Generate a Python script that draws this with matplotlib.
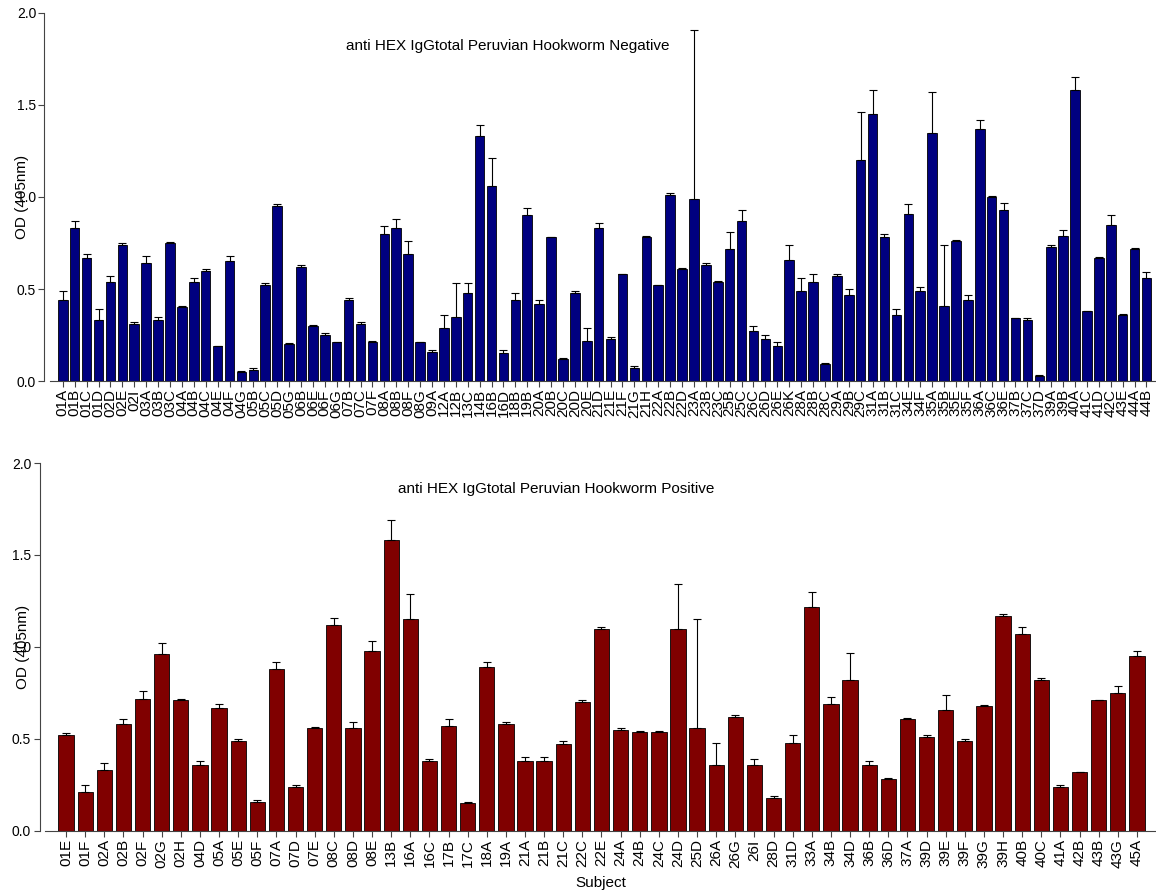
import matplotlib
matplotlib.use("Agg")
import matplotlib.pyplot as plt
import numpy as np

plt.rcParams["font.family"] = ["Liberation Sans", "DejaVu Sans"]

# ── Negative group ────────────────────────────────────────────────────────────
neg_subjects = [
    "01A", "01B", "01C", "01D", "02D", "02E", "02I", "03A", "03B", "03C",
    "04A", "04B", "04C", "04E", "04F", "04G", "05B", "05C", "05D", "05G",
    "06B", "06E", "06F", "06G", "07B", "07C", "07F", "08A", "08B", "08F",
    "08G", "09A", "12A", "12B", "13C", "14B", "16B", "16D", "18B", "19B",
    "20A", "20B", "20C", "20D", "20E", "21D", "21E", "21F", "21G", "21H",
    "22A", "22B", "22D", "23A", "23B", "23C", "25B", "25C", "26C", "26D",
    "26E", "26K", "28A", "28B", "28C", "29A", "29B", "29C", "31A", "31B",
    "31C", "34E", "34F", "35A", "35B", "35E", "35F", "36A", "36C", "36E",
    "37B", "37C", "37D", "39A", "39B", "40A", "41C", "41D", "42C", "43E",
    "44A", "44B",
]
neg_od = [
    0.44, 0.83, 0.67, 0.33, 0.54, 0.74, 0.31, 0.64, 0.33, 0.75,
    0.40, 0.54, 0.60, 0.19, 0.65, 0.05, 0.06, 0.52, 0.95, 0.20,
    0.62, 0.30, 0.25, 0.21, 0.44, 0.31, 0.21, 0.80, 0.83, 0.69,
    0.21, 0.16, 0.29, 0.35, 0.48, 1.33, 1.06, 0.15, 0.44, 0.90,
    0.42, 0.78, 0.12, 0.48, 0.22, 0.83, 0.23, 0.58, 0.07, 0.78,
    0.52, 1.01, 0.61, 0.99, 0.63, 0.54, 0.72, 0.87, 0.27, 0.23,
    0.19, 0.66, 0.49, 0.54, 0.09, 0.57, 0.47, 1.20, 1.45, 0.78,
    0.36, 0.91, 0.49, 1.35, 0.41, 0.76, 0.44, 1.37, 1.00, 0.93,
    0.34, 0.33, 0.03, 0.73, 0.79, 1.58, 0.38, 0.67, 0.85, 0.36,
    0.72, 0.56,
]
neg_err = [
    0.05, 0.04, 0.02, 0.06, 0.03, 0.01, 0.01, 0.04, 0.02, 0.005,
    0.005, 0.02, 0.01, 0.003, 0.03, 0.005, 0.01, 0.01, 0.01, 0.005,
    0.01, 0.003, 0.01, 0.003, 0.01, 0.01, 0.01, 0.04, 0.05, 0.07,
    0.003, 0.01, 0.07, 0.18, 0.05, 0.06, 0.15, 0.02, 0.04, 0.04,
    0.02, 0.005, 0.003, 0.01, 0.07, 0.03, 0.01, 0.003, 0.01, 0.01,
    0.003, 0.01, 0.003, 0.92, 0.01, 0.003, 0.09, 0.06, 0.03, 0.02,
    0.02, 0.08, 0.07, 0.04, 0.01, 0.01, 0.03, 0.26, 0.13, 0.02,
    0.03, 0.05, 0.02, 0.22, 0.33, 0.005, 0.03, 0.05, 0.005, 0.04,
    0.005, 0.01, 0.003, 0.01, 0.03, 0.07, 0.003, 0.005, 0.05, 0.003,
    0.005, 0.03,
]

# ── Positive group ────────────────────────────────────────────────────────────
pos_subjects = [
    "01E", "01F", "02A", "02B", "02F", "02G", "02H", "04D", "05A", "05E",
    "05F", "07A", "07D", "07E", "08C", "08D", "08E", "13B", "16A", "16C",
    "17B", "17C", "18A", "19A", "21A", "21B", "21C", "22C", "22E", "24A",
    "24B", "24C", "24D", "25D", "26A", "26G", "26I", "28D", "31D", "33A",
    "34B", "34D", "36B", "36D", "37A", "39D", "39E", "39F", "39G", "39H",
    "40B", "40C", "41A", "42B", "43B", "43G", "45A",
]
pos_od = [
    0.52, 0.21, 0.33, 0.58, 0.72, 0.96, 0.71, 0.36, 0.67, 0.49,
    0.16, 0.88, 0.24, 0.56, 1.12, 0.56, 0.98, 1.58, 1.15, 0.38,
    0.57, 0.15, 0.89, 0.58, 0.38, 0.38, 0.47, 0.70, 1.10, 0.55,
    0.54, 0.54, 1.10, 0.56, 0.36, 0.62, 0.36, 0.18, 0.48, 1.22,
    0.69, 0.82, 0.36, 0.28, 0.61, 0.51, 0.66, 0.49, 0.68, 1.17,
    1.07, 0.82, 0.24, 0.32, 0.71, 0.75, 0.95,
]
pos_err = [
    0.01, 0.04, 0.04, 0.03, 0.04, 0.06, 0.01, 0.02, 0.02, 0.01,
    0.01, 0.04, 0.01, 0.003, 0.04, 0.03, 0.05, 0.11, 0.14, 0.01,
    0.04, 0.01, 0.03, 0.01, 0.02, 0.02, 0.02, 0.01, 0.01, 0.01,
    0.003, 0.003, 0.24, 0.59, 0.12, 0.01, 0.03, 0.01, 0.04, 0.08,
    0.04, 0.15, 0.02, 0.01, 0.003, 0.01, 0.08, 0.01, 0.003, 0.01,
    0.04, 0.01, 0.01, 0.003, 0.003, 0.04, 0.03,
]


def bar_panel(ax, subjects, od, err, color, title, title_x, title_y):
    x = np.arange(len(subjects))
    ax.bar(x, od, width=0.8, color=color, edgecolor="black", linewidth=0.6,
           zorder=2)
    # one-sided (upper) error bars
    ax.errorbar(x, od, yerr=[np.zeros(len(err)), err], fmt="none",
                ecolor="black", elinewidth=0.8, capsize=3, capthick=0.8,
                zorder=3)
    ax.set_xticks(x)
    ax.set_xticklabels(subjects, rotation=90, fontsize=11)
    ax.set_ylim(0, 2.0)
    ax.set_yticks([0.0, 0.5, 1.0, 1.5, 2.0])
    ax.set_yticklabels(["0.0", "0.5", "1.0", "1.5", "2.0"], fontsize=10)
    ax.spines["top"].set_visible(False)
    ax.spines["right"].set_visible(False)
    ax.spines["left"].set_position(("outward", 4))
    ax.spines["left"].set_color("#444444")
    ax.spines["bottom"].set_color("#444444")
    ax.tick_params(axis="both", direction="out", length=4, width=0.8,
                   color="#444444", pad=2)
    ax.set_ylabel("OD (405nm)", fontsize=11)
    ax.text(title_x, title_y, title, transform=ax.transAxes, ha="center",
            va="center", fontsize=11)


fig = plt.figure(figsize=(11.56, 8.94), dpi=100)

ax_neg = fig.add_axes([0.0433, 0.5738, 0.9567, 0.4117])
bar_panel(ax_neg, neg_subjects, neg_od, neg_err, "#000080",
          "anti HEX IgGtotal Peruvian Hookworm Negative", 0.414, 0.91)
ax_neg.set_xlim(-1.07, len(neg_subjects) - 0.2)
ax_neg.yaxis.set_label_coords(-0.019, 0.5)

ax_pos = fig.add_axes([0.039, 0.0705, 0.961, 0.4116])
bar_panel(ax_pos, pos_subjects, pos_od, pos_err, "#800000",
          "anti HEX IgGtotal Peruvian Hookworm Positive", 0.46, 0.928)
ax_pos.set_xlim(-1.1, len(pos_subjects))
ax_pos.yaxis.set_label_coords(-0.014, 0.5)
ax_pos.set_xlabel("Subject", fontsize=11, labelpad=6)

fig.savefig("out.png", dpi=100)
